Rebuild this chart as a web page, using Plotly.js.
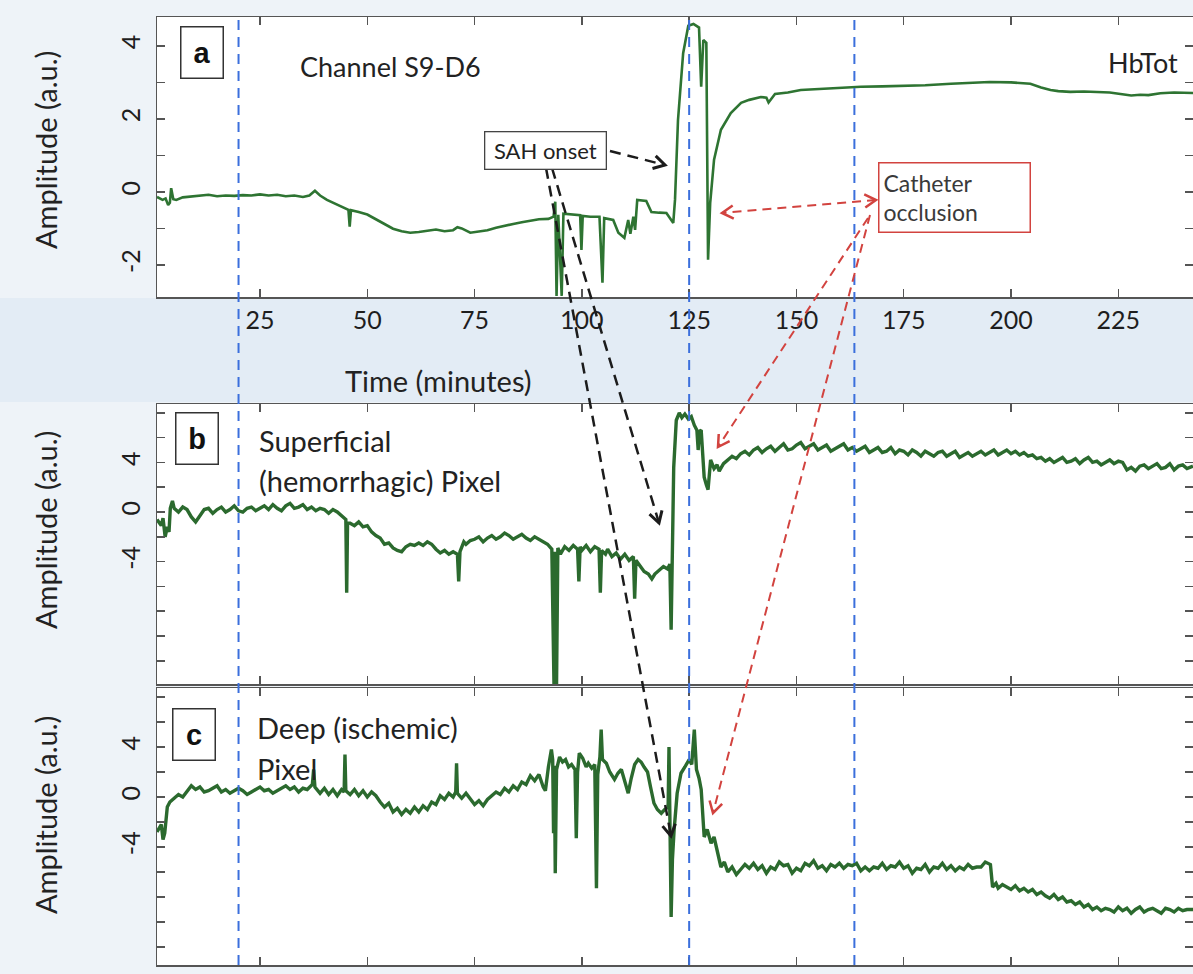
<!DOCTYPE html>
<html>
<head>
<meta charset="utf-8">
<script src="https://cdn.plot.ly/plotly-3.0.1.min.js"></script>
<style>html,body{margin:0;padding:0;background:#eef3f8;}#chart{width:1193px;height:974px;}</style>
</head>
<body>
<div id="chart"></div>
<script>
// ---------- DATA ----------
// Panel a: Channel S9-D6, HbTot
const tA = [1.0,2.3,3.0,3.6,4.0,4.3,4.8,5.5,7,9,11,13,15,17,19,21,23,25,27,29,31,33,35,36.5,37.8,39,40.6,42,44,45.6,45.9,46.2,48,50,52,54,56,58,60,62,64,66,68,70,71,72,74,76,78,80,82,84,86,88,90,92.2,93.4,93.8,94.1,94.5,95.3,95.7,97,98.7,99.6,99.9,100.2,102,104.1,104.8,105.2,107.3,108.5,109.9,110.8,111.3,112.0,112.4,112.9,115.0,116.2,118,119.7,121.3,121.7,122.4,123.6,124.8,126,127.3,127.8,128.3,129.0,129.4,129.9,130.8,132.4,134.7,137.1,139,141.7,143,143.5,145,148,151,155,160,165,170,175,180,186,190,195,200,204.5,207,209.2,211,213.8,217,220.8,223,225.5,228,230.1,232,234.8,238,242.4];
const vA = [-0.14,-0.22,-0.18,-0.36,-0.3,0.1,-0.2,-0.22,-0.15,-0.12,-0.1,-0.08,-0.12,-0.1,-0.11,-0.09,-0.1,-0.07,-0.1,-0.08,-0.12,-0.1,-0.14,-0.1,0.03,-0.1,-0.22,-0.3,-0.42,-0.49,-0.95,-0.5,-0.55,-0.62,-0.75,-0.88,-1.01,-1.08,-1.12,-1.1,-1.06,-1.03,-1.08,-1.05,-0.97,-1.0,-1.12,-1.08,-1.05,-0.98,-0.94,-0.88,-0.83,-0.8,-0.75,-0.74,-0.68,-0.27,-2.85,-0.63,-2.85,-0.6,-0.62,-0.63,-0.64,-1.59,-0.66,-0.68,-0.68,-2.49,-0.72,-0.77,-1.12,-1.26,-0.77,-1.15,-0.68,-1.04,-0.22,-0.25,-0.55,-0.57,-0.58,-0.85,-0.22,1.97,3.8,4.55,4.6,4.5,2.88,4.16,4.08,-1.86,-0.3,0.88,1.7,2.16,2.44,2.52,2.6,2.58,2.45,2.68,2.72,2.79,2.82,2.86,2.88,2.89,2.9,2.92,2.96,2.99,3.01,3.0,2.96,2.86,2.79,2.76,2.74,2.75,2.74,2.72,2.68,2.64,2.66,2.65,2.7,2.72,2.71];

// Panel b: Superficial (hemorrhagic) pixel
const tB = [1.0,2.0,2.4,2.9,3.4,3.8,4.1,4.6,5,6,7,8,9,10,11,12,13,14,15,16,17,18,19,20,21,22,23,24,25,26,27,28,29,30,31,32,33,34,35,36,37,38,39,40,41,42,43,44,45.0,45.2,45.4,46,47,48,49,50,51,52,53,54,55,56,57,58,59,60,61,62,63,64,65,66,67,68,69,70,71.0,71.3,71.6,72.5,73,74,75,76,77,78,79,80,81,82,83,84,85,86,87,88,89,90,91,92,93.0,93.5,93.8,94.1,94.4,95,96,97,98,99.0,99.3,99.6,100,101,102,103,104.0,104.3,104.6,105.5,106,107,108,109,110,111,112.0,112.3,112.6,113.5,114.5,115.5,116.3,117,118,119,120,120.5,120.8,121.1,121.4,122,122.7,123.3,124,124.8,125.5,126.2,126.8,127.1,127.4,127.8,128.5,129,129.4,130,130.8,131.5,132,133,134,135,136,137,138,139,140,141,142,143,144,145,146,147,148,149,150,151,152,153,154,155,156,157,158,159,160,161,162,163,164,165,166,167,168,169,170,171,172,173,174,175,176,177,178,179,180,181,182,183,184,185,186,187,188,189,190,191,192,193,194,195,196,197,198,199,200,201,202,203,204,205,206,207,208,209,210,211,212,213,214,215,216,217,218,219,220,221,222,223,224,225,226,227,228,229,230,231,232,233,234,235,236,237,238,239,240,241,242.4];
const vB = [-0.6,-1.1,-0.5,-2.0,-1.2,-1.6,0.3,0.9,
  0.3,0.0,0.4,0.2,-0.4,-0.8,-0.3,0.2,0.3,-0.1,0.2,0.4,0.0,0.2,0.5,0.1,0.0,0.3,0.4,0.1,0.3,0.5,0.2,0.6,0.3,0.1,0.5,0.7,0.3,0.4,0.6,0.2,0.4,0.1,0.3,0.2,-0.1,0.2,0.0,-0.3,
  -0.6,-6.5,-0.9,
  -0.9,-1.1,-0.8,-1.2,-1.1,-1.6,-1.9,-2.1,-2.6,-2.5,-2.9,-3.1,-3.2,-2.8,-2.6,-2.7,-2.5,-2.7,-2.4,-2.6,-3.0,-3.3,-3.1,-3.4,-3.2,
  -3.4,-5.6,-3.2,
  -2.4,-2.6,-2.3,-2.2,-2.0,-2.4,-2.1,-1.9,-2.2,-2.0,-1.7,-1.9,-2.2,-2.0,-1.8,-2.1,-2.3,-2.0,-2.2,-2.4,-2.6,
  -3.0,-13.9,-3.2,-13.9,-2.9,-3.4,-2.8,-3.1,-2.7,-3.0,-5.6,-2.8,-3.1,-2.7,-3.2,-2.8,-3.0,-6.5,-3.1,-3.4,-3.0,-3.6,-3.3,-3.8,-3.4,-3.9,-3.6,-7.0,-3.9,-4.3,-4.8,-5.0,-5.4,-5.0,-4.7,-4.4,-4.6,-4.2,-9.5,-4.0,3.6,7.4,8.0,7.6,7.9,7.5,7.7,7.0,6.6,5.0,6.5,6.6,2.8,2.2,1.8,4.2,3.5,3.8,3.3,3.9,4.2,4.5,4.3,
  4.7,4.9,4.6,5.0,5.2,4.8,5.1,5.3,4.9,5.2,5.5,5.0,5.1,5.4,5.6,5.1,5.3,5.5,5.0,5.2,5.4,4.9,5.1,5.3,5.5,5.0,5.2,4.9,5.1,5.3,4.8,5.0,5.2,4.8,4.9,5.2,4.7,5.0,4.9,4.6,5.0,4.8,4.5,4.9,4.7,4.5,4.8,4.9,4.5,4.7,4.9,4.4,4.6,4.8,4.5,4.7,4.9,4.6,4.8,5.0,4.6,4.8,5.0,4.7,4.9,4.6,4.8,4.5,4.6,4.3,4.4,4.1,4.3,4.0,4.2,4.4,4.0,4.1,4.3,3.9,4.2,4.4,4.0,4.1,3.8,4.0,4.2,3.9,4.1,4.0,3.4,3.6,3.3,3.7,3.8,3.5,3.7,3.9,3.5,3.6,3.9,3.4,3.7,3.8,3.5,3.7];

// Panel c: Deep (ischemic) pixel
const tC = [1.0,2.0,2.4,2.8,3.4,4,5,6,7,8,9,10,11,12,13,14,15,16,17,18,19,20,21,22,23,24,25,26,27,28,29,30,31,32,33,34,35,36,37.2,37.5,37.8,39,40,41,42,43,44,44.6,44.8,45.0,46,47,48,49,50,51,52,53,54,55,56,57,58,59,60,61,62,63,64,65,66,67,68,69,70,70.6,70.8,71.0,72,73,74,75,76,77,78,79,80,81,82,83,84,85,86,87,88,89,90,91,91.5,92.2,92.9,93.2,93.4,93.6,93.8,94.1,94.8,95.5,96.2,96.9,97.6,98.4,98.7,99.0,99.4,100.2,101,101.5,102.3,103.0,103.4,103.7,104.2,104.5,104.8,105.7,106.5,107.6,108.4,109.2,110,110.8,111.5,112.3,113.1,113.8,114.5,115.3,116,116.8,117.6,118.5,119.3,120.1,120.3,120.6,120.8,121.1,121.5,122.2,123.1,124,125.0,125.6,126.2,126.7,127.3,127.8,128.5,129.2,130.1,130.8,131.5,132.4,133.2,134,135,136,137,138,139,140,141,142,143,144,145,146,147,148,149,150,151,152,153,154,155,156,157,158,159,160,161,162,163,164,165,166,167,168,169,170,171,172,173,174,175,176,177,178,179,180,181,182,183,184,185,186,187,188,189,190,191,192,193,194,195.2,195.7,196.5,197,198,199,200,201,202,203,204,205,206,207,208,209,210,211,212,213,214,215,216,217,218,219,220,221,222,223,224,225,226,227,228,229,230,231,232,233,234,235,236,237,238,239,240,241,242.4];
const vC = [-2.8,-2.2,-3.4,-2.9,-0.8,-0.4,
  -0.1,0.2,0.0,0.5,0.9,0.6,0.8,0.4,0.5,0.7,0.9,0.4,0.6,0.3,0.5,0.7,0.5,0.2,0.4,0.6,0.8,0.5,0.6,0.3,0.5,0.7,0.9,0.6,0.8,0.4,0.7,0.6,
  1.0,2.2,0.8,0.3,0.7,0.2,0.6,0.1,0.6,0.4,3.4,0.5,0.2,0.6,0.1,0.5,0.0,0.4,0.1,-0.4,-0.8,-0.5,-1.2,-0.9,-1.4,-1.0,-1.3,-0.8,-1.2,-0.7,-1.0,-0.4,-0.6,0.1,-0.2,0.3,0.0,0.4,2.7,0.3,-0.1,0.3,-0.2,-0.6,-0.3,-0.7,-0.2,0.1,0.4,0.2,0.7,0.4,0.9,0.6,1.2,1.0,1.7,1.3,1.8,0.8,0.5,2.4,3.8,3.0,-2.9,2.5,-6.1,2.2,3.2,2.8,3.0,2.4,2.6,2.2,-3.3,2.0,3.5,3.1,2.4,2.7,2.3,2.6,-7.3,1.8,3.2,5.4,3.0,2.7,2.0,1.4,1.9,2.2,1.3,0.3,1.5,2.6,3.0,2.8,2.4,2.0,0.8,-0.5,-1.0,-1.3,-1.0,-0.8,4.0,-2.0,-9.6,-5.0,-2.6,0.3,1.9,2.4,3.0,2.6,5.4,2.2,1.5,0.6,-3.2,-2.6,-3.7,-3.2,-4.4,-5.6,-5.2,
  -6.0,-5.6,-6.2,-5.8,-5.4,-5.7,-5.3,-5.8,-5.5,-6.1,-5.6,-5.8,-5.2,-5.5,-5.4,-6.1,-5.7,-5.9,-5.3,-5.5,-5.1,-5.7,-5.5,-5.9,-5.4,-5.6,-5.3,-5.7,-5.4,-5.5,-5.3,-5.9,-5.6,-5.9,-5.6,-5.7,-5.3,-5.8,-5.5,-5.6,-5.2,-5.7,-5.5,-6.1,-5.7,-5.8,-5.4,-6.0,-5.6,-5.7,-5.3,-5.8,-5.5,-5.9,-5.6,-5.8,-5.4,-5.7,-5.6,-5.6,-5.2,
  -5.4,-7.2,
  -6.9,-7.3,-7.0,-7.2,-7.4,-7.1,-7.5,-7.3,-7.6,-7.4,-7.8,-7.6,-7.9,-8.1,-7.8,-8.2,-8.0,-8.4,-8.3,-8.6,-8.4,-8.8,-8.6,-9.0,-8.8,-9.1,-8.9,-9.0,-9.2,-8.8,-9.1,-8.9,-9.3,-9.0,-8.8,-9.2,-9.0,-8.9,-9.1,-9.3,-8.9,-9.0,-9.2,-8.9,-9.1,-9.0,
  -9.0];

// x tick labels and event markers (minutes)
const xTicks = [25,50,75,100,125,150,175,200,225];
const eventTimes = [20,125,163.5];
const yTicksA = [-2,-1,0,1,2,3,4];
const yTextA  = ['-2','','0','','2','','4'];
const yTicksBC = [-12,-10,-8,-6,-4,-2,0,2,4,6,8];
const yTextBC  = ['','','','','-4','','0','','4','',''];

// ---------- LAYOUT HELPERS ----------
const W = 1193, H = 974;
const px = x => x / W;
const py = y => 1 - y / H;
const FONT = 'Lato, "Open Sans", sans-serif';
const frame = '#555555';

function xAxis(anchor, labels) {
  return {
    domain: [px(157), 1], range: [1.0, 242.4], anchor: anchor,
    tickvals: xTicks, ticks: 'inside', ticklen: 8, tickwidth: 1.5, tickcolor: frame,
    showline: true, linecolor: frame, linewidth: 1.5, mirror: 'ticks',
    showgrid: false, zeroline: false, showticklabels: labels,
    tickfont: {family: FONT, size: 25, color: '#1e1e1e'}, ticklabelstandoff: 0
  };
}
function yAxis(anchor, top, bottom, range, vals, text) {
  return {
    domain: [py(bottom), py(top)], range: range, anchor: anchor,
    tickvals: vals, ticktext: text, tickangle: -90,
    ticks: 'inside', ticklen: 8, tickwidth: 1.5, tickcolor: frame,
    showline: true, linecolor: frame, linewidth: 1.5, mirror: 'ticks',
    showgrid: false, zeroline: false,
    tickfont: {family: FONT, size: 25, color: '#1e1e1e'}, ticklabelstandoff: 6
  };
}

const shapes = [];
// light blue band behind the time axis labels
shapes.push({type: 'rect', xref: 'paper', yref: 'paper', x0: 0, x1: 1, y0: py(402), y1: py(298),
  line: {width: 0}, fillcolor: '#e3ecf5', layer: 'below'});
// vertical blue dashed event lines through all panels
eventTimes.forEach(t => shapes.push({type: 'line', xref: 'x', yref: 'paper', x0: t, x1: t,
  y0: py(965), y1: py(17), line: {color: '#3b6fdc', width: 2, dash: '10px,7px'}}));

function arrow(x0, y0, x1, y1, color, width, dash, heads) {
  shapes.push({type: 'line', xref: 'paper', yref: 'paper', x0: px(x0), y0: py(y0), x1: px(x1), y1: py(y1),
    line: {color: color, width: width, dash: dash}});
  const head = (tx, ty, fx, fy) => {
    const dx = tx - fx, dy = ty - fy, L = Math.hypot(dx, dy), ux = dx / L, uy = dy / L;
    const len = 13, a = Math.PI / 6;
    const p = s => [tx - len * (ux * Math.cos(a) - s * uy * Math.sin(a)), ty - len * (uy * Math.cos(a) + s * ux * Math.sin(a))];
    const p1 = p(1), p2 = p(-1);
    shapes.push({type: 'path', xref: 'paper', yref: 'paper',
      path: `M ${px(p1[0])} ${py(p1[1])} L ${px(tx)} ${py(ty)} L ${px(p2[0])} ${py(p2[1])}`,
      line: {color: color, width: width + 0.5}});
  };
  if (heads.includes('end')) head(x1, y1, x0, y0);
  if (heads.includes('start')) head(x0, y0, x1, y1);
}
// SAH onset arrows (black)
arrow(610, 151, 665, 165, '#1c1c1c', 2.5, '11px,7px', ['end']);
arrow(552, 168, 659, 523, '#1c1c1c', 2.5, '11px,7px', ['end']);
arrow(546, 168, 671, 836, '#1c1c1c', 2.5, '11px,7px', ['end']);
// Catheter occlusion arrows (red)
arrow(876, 200, 722, 213, '#d2433f', 2, '9px,6px', ['end', 'start']);
arrow(868, 218, 718, 447, '#d2433f', 2, '9px,6px', ['end']);
arrow(870, 215, 713, 813, '#d2433f', 2, '9px,6px', ['end']);

const ann = [];
function txt(text, x, y, size, opts) {
  ann.push(Object.assign({text: text, x: px(x), y: py(y), xref: 'paper', yref: 'paper', showarrow: false,
    xanchor: 'center', yanchor: 'middle',
    font: {family: FONT, size: size, color: '#222'}}, opts || {}));
}
function letterBox(letter, x, y) {
  txt('<b>' + letter + '</b>', x, y, 29, {font: {family: '"Liberation Sans", Arial, sans-serif', size: 29, color: '#111'},
    width: 33, height: 42, bordercolor: '#333', borderwidth: 1.5, borderpad: 4, bgcolor: '#ffffff'});
}
letterBox('a', 202, 52);
letterBox('b', 197, 439);
letterBox('c', 194, 734);
txt('Channel S9-D6', 298, 66, 27, {xanchor: 'left'});
txt('HbTot', 1180, 63, 27, {xanchor: 'right'});
txt('Superficial', 257, 440, 29, {xanchor: 'left'});
txt('(hemorrhagic) Pixel', 257, 480, 29, {xanchor: 'left'});
txt('Deep (ischemic)', 255, 727, 29, {xanchor: 'left'});
txt('Pixel', 255, 768, 29, {xanchor: 'left'});
txt('Time (minutes)', 438, 380, 29);
txt('Amplitude (a.u.)', 45, 150, 29, {textangle: -90});
txt('Amplitude (a.u.)', 45, 530, 29, {textangle: -90});
txt('Amplitude (a.u.)', 45, 815, 29, {textangle: -90});
txt('SAH onset', 545, 150, 22, {width: 112, height: 28, bordercolor: '#444', borderwidth: 1.3, borderpad: 4, bgcolor: '#ffffff'});
txt('Catheter<br>occlusion', 954, 198, 23, {width: 142, height: 60, align: 'left', bordercolor: '#d2433f',
  borderwidth: 1.5, borderpad: 4, bgcolor: 'rgba(255,255,255,0.9)', font: {family: FONT, size: 23, color: '#3a3a3a'}});

const traces = [
  {x: tA, y: vA, xaxis: 'x', yaxis: 'y', type: 'scatter', mode: 'lines', line: {color: '#2e7432', width: 2.6}, hoverinfo: 'skip'},
  {x: tB, y: vB, xaxis: 'x2', yaxis: 'y2', type: 'scatter', mode: 'lines', line: {color: '#2b6a2e', width: 3.4}, hoverinfo: 'skip'},
  {x: tC, y: vC, xaxis: 'x3', yaxis: 'y3', type: 'scatter', mode: 'lines', line: {color: '#2b6a2e', width: 3.4}, hoverinfo: 'skip'}
];

const layout = {
  width: W, height: H, margin: {l: 0, r: 0, t: 0, b: 0},
  paper_bgcolor: '#eef3f8', plot_bgcolor: '#ffffff', showlegend: false,
  font: {family: FONT, color: '#222'},
  xaxis: xAxis('y', true),
  xaxis2: xAxis('y2', false),
  xaxis3: xAxis('y3', false),
  yaxis: yAxis('x', 17, 297, [-2.88, 4.79], yTicksA, yTextA),
  yaxis2: yAxis('x2', 404, 684, [-13.87, 8.71], yTicksBC, yTextBC),
  yaxis3: yAxis('x3', 688, 965, [-13.44, 8.72], yTicksBC, yTextBC),
  shapes: shapes, annotations: ann
};
Plotly.newPlot('chart', traces, layout, {displayModeBar: false, staticPlot: true});
</script>
</body>
</html>
